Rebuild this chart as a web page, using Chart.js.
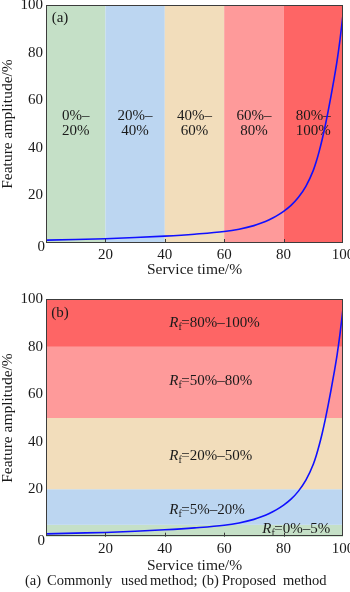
<!DOCTYPE html>
<html>
<head>
<meta charset="utf-8">
<script src="https://cdn.jsdelivr.net/npm/chart.js@4.4.1/dist/chart.umd.min.js"></script>
<style>
  html, body { margin: 0; padding: 0; background: #fff; }
  #wrap { position: relative; width: 350px; height: 592px; overflow: hidden;
          font-family: "Liberation Serif", "Times New Roman", serif; color: #1a1a1a; }
  #ca { position: absolute; left: 0; top: 0; }
  #cb { position: absolute; left: 0; top: 290px; }
  .cap { position: absolute; top: 571px; font-size: 14.5px; line-height: 18px; white-space: pre; }
</style>
</head>
<body>
<div id="wrap">
  <canvas id="ca" width="350" height="290"></canvas>
  <canvas id="cb" width="350" height="302"></canvas>
  <span class="cap" style="left:25px">(a)</span>
  <span class="cap" style="left:47px">Commonly</span>
  <span class="cap" style="left:121px">used</span>
  <span class="cap" style="left:150px">method;</span>
  <span class="cap" style="left:202px">(b)</span>
  <span class="cap" style="left:222px">Proposed</span>
  <span class="cap" style="left:283px">method</span>
</div>
<script>
// Degradation curve: feature amplitude (%) against service time (%)
const serviceTime = [0, 10, 20, 30, 40, 50, 60, 65, 70, 72.5, 75, 77.5, 80, 82.5, 85, 87.5, 90, 91, 92, 93, 94, 95, 96, 97, 98, 99, 100];
const amplitude   = [1.2, 1.5, 1.8, 2.3, 2.9, 3.7, 4.8, 5.8, 7.3, 8.4, 9.7, 11.3, 13.3, 15.8, 19.2, 23.8, 30.5, 34.2, 38.6, 43.6, 49.2, 55.4, 62, 69, 76.5, 85.5, 96];

// Axis ticks (same on both panels)
const axisTicks = [0, 20, 40, 60, 80, 100];

// (a) stages split by service time
const stageEdges = [0, 20, 40, 60, 80, 100];
const stageText  = [['0%–', '20%'], ['20%–', '40%'], ['40%–', '60%'], ['60%–', '80%'], ['80%–', '100%']];

// (b) levels split by feature amplitude, labelled with R_f
const levelEdges = [0, 5, 20, 50, 80, 100];
const levelText  = ['0%–5%', '5%–20%', '20%–50%', '50%–80%', '80%–100%'];

const zoneColors = ['#c5e0c7', '#bcd6f1', '#f2ddbb', '#fe9a9a', '#fe6565'];

const FONT = '"Liberation Serif", "Times New Roman", serif';
const INK = '#1a1a1a';

const points = serviceTime.map((t, i) => ({ x: t, y: amplitude[i] }));

// Background zones, their labels, the frame and inward x tick marks
const zonePlugin = {
  id: 'zones',
  beforeDatasetsDraw(chart, args, opts) {
    const { ctx, chartArea: a, scales: { x, y } } = chart;
    ctx.save();
    const edges = opts.edges;
    for (let i = 0; i < edges.length - 1; i++) {
      ctx.fillStyle = zoneColors[i];
      if (opts.vertical) {
        const x0 = x.getPixelForValue(edges[i]), x1 = x.getPixelForValue(edges[i + 1]);
        ctx.fillRect(x0, a.top, x1 - x0, a.bottom - a.top);
      } else {
        const y0 = y.getPixelForValue(edges[i + 1]), y1 = y.getPixelForValue(edges[i]);
        ctx.fillRect(a.left, y0, a.right - a.left, y1 - y0);
      }
    }
    ctx.fillStyle = INK;
    ctx.textBaseline = 'middle';
    if (opts.vertical) {
      ctx.textAlign = 'center';
      ctx.font = '15px ' + FONT;
      for (let i = 0; i < stageText.length; i++) {
        const cx = x.getPixelForValue((edges[i] + edges[i + 1]) / 2);
        const cy = y.getPixelForValue(50);
        ctx.fillText(stageText[i][0], cx, cy - 7.5);
        ctx.fillText(stageText[i][1], cx, cy + 7.5);
      }
    } else {
      ctx.textAlign = 'left';
      opts.spots.forEach((p, i) => {
        let px = x.getPixelForValue(p[0]);
        const py = y.getPixelForValue(p[1]);
        ctx.font = 'italic 15px ' + FONT;
        ctx.fillText('R', px, py);
        px += ctx.measureText('R').width;
        ctx.font = '10px ' + FONT;
        ctx.fillText('f', px, py + 4.5);
        px += ctx.measureText('f').width - 0.5;
        ctx.font = '15px ' + FONT;
        ctx.fillText('=' + levelText[i], px, py);
      });
    }
    // panel tag
    ctx.font = '15px ' + FONT;
    ctx.textAlign = 'center';
    ctx.fillText(opts.tag, a.left + 14, a.top + 13.5);
    ctx.restore();
  },
  afterDraw(chart) {
    const { ctx, chartArea: a, scales: { x } } = chart;
    ctx.save();
    ctx.strokeStyle = '#3c3c3c';
    ctx.lineWidth = 1;
    ctx.strokeRect(Math.round(a.left) + 0.5, Math.round(a.top) + 0.5,
                   Math.round(a.right - a.left) - 1, Math.round(a.bottom - a.top) - 1);
    ctx.beginPath();
    [20, 40, 60, 80].forEach(v => {
      const px = Math.round(x.getPixelForValue(v)) + 0.5;
      ctx.moveTo(px, a.bottom);
      ctx.lineTo(px, a.bottom - 4);
    });
    ctx.stroke();
    // shared origin label, set just below the corner
    ctx.fillStyle = INK;
    ctx.font = '15px ' + FONT;
    ctx.textAlign = 'right';
    ctx.textBaseline = 'middle';
    ctx.fillText('0', a.left - 1, a.bottom + 4.5);
    ctx.restore();
  }
};

function makePanel(canvas, cfg) {
  return new Chart(canvas, {
    type: 'line',
    data: {
      datasets: [{
        data: points,
        borderColor: '#1010ff',
        borderWidth: 1.6,
        pointRadius: 0,
        fill: false,
        cubicInterpolationMode: 'monotone'
      }]
    },
    options: {
      responsive: false,
      animation: false,
      devicePixelRatio: 1,
      layout: { padding: { left: 0, right: 7, top: cfg.top, bottom: 0 } },
      plugins: {
        legend: { display: false },
        tooltip: { enabled: false },
        zones: cfg.zones
      },
      scales: {
        x: {
          type: 'linear', min: 0, max: 100,
          grid: { display: false, drawTicks: false },
          border: { display: false },
          afterBuildTicks: s => { s.ticks = axisTicks.map(v => ({ value: v })); },
          ticks: {
            padding: 3, color: INK, autoSkip: false, maxRotation: 0,
            font: { family: FONT, size: 15 },
            callback: v => (v === 0 ? '' : String(v))
          },
          title: {
            display: true, text: 'Service time/%', color: INK,
            font: { family: FONT, size: 15.5, lineHeight: 1.2 },
            padding: { top: 0, bottom: cfg.titlePad }
          },
          afterFit: s => { s.height = cfg.xHeight; s.paddingLeft = 0; s.paddingRight = 0; }
        },
        y: {
          type: 'linear', min: 0, max: 100,
          grid: { display: false, drawTicks: false },
          border: { display: false },
          afterBuildTicks: s => { s.ticks = axisTicks.map(v => ({ value: v })); },
          ticks: {
            padding: 3, color: INK, font: { family: FONT, size: 15 },
            callback: v => (v === 0 ? '' : String(v))
          },
          title: {
            display: true, text: 'Feature amplitude/%', color: INK,
            font: { family: FONT, size: 15.5, lineHeight: 1 },
            padding: 0
          },
          afterFit: s => { s.width = 46; s.paddingTop = 0; s.paddingBottom = 0; }
        }
      }
    },
    plugins: [zonePlugin]
  });
}

makePanel(document.getElementById('ca'), {
  top: 5, xHeight: 47, titlePad: 10.7,
  zones: { vertical: true, edges: stageEdges, tag: '(a)' }
});

makePanel(document.getElementById('cb'), {
  top: 9.3, xHeight: 55.3, titlePad: 16.7,
  zones: {
    vertical: false, edges: levelEdges, tag: '(b)',
    spots: [[72.8, 3.3], [41.5, 11.3], [41.5, 34], [41.5, 65.5], [41.5, 90]]
  }
});
</script>
</body>
</html>
